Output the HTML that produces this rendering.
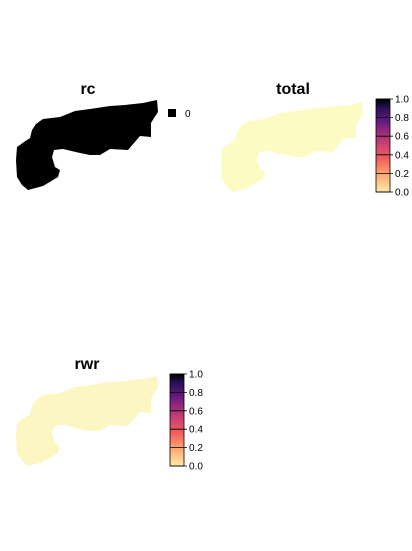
<!DOCTYPE html>
<html><head><meta charset="utf-8"><style>
body{margin:0;background:#fff;}
svg{display:block;font-family:"Liberation Sans",sans-serif;}
</style></head><body>
<svg id="c" width="412" height="551">
<defs>
<linearGradient id="mg" x1="0" y1="1" x2="0" y2="0">
<stop offset="0" stop-color="#FEEBAA"/><stop offset="0.2" stop-color="#FDA36C"/>
<stop offset="0.35" stop-color="#F3605B"/><stop offset="0.55" stop-color="#C13B75"/>
<stop offset="0.75" stop-color="#6A1A80"/><stop offset="0.9" stop-color="#2A1159"/><stop offset="1" stop-color="#000004"/>
</linearGradient>
</defs>
</svg>
<script>
const tickValues=[0,0.2,0.4,0.6,0.8,1.0];
const tickLabels=["0.0","0.2","0.4","0.6","0.8","1.0"];
const panelNames=["rc","total","rwr"];
const panelFills=["#000000","#FDFBC4","#FBF6C2"];
const rcCategories=["0"];
const shape=[[157,100],[158,112],[154,118],[151,123],[151,137],[140,136],[128,150],[110,149],[100,155],[90,155],[80,153],[63,149],[54,150],[52,157],[55,167],[60,170],[58,177],[53,180],[43,186],[28,190],[22,185],[17,177],[16,160],[17,147],[24,142],[30,138],[32,130],[36,124],[43,119],[60,117],[75,111],[90,109],[110,106],[125,105],[143,103]];
const svg=document.getElementById('c');
const NS='http://www.w3.org/2000/svg';
function mk(t,a){const e=document.createElementNS(NS,t);for(const k in a)e.setAttribute(k,a[k]);svg.appendChild(e);return e;}
const offsets=[[0,0],[205,2],[0,276]];
panelNames.forEach((n,i)=>{
  const [dx,dy]=offsets[i];
  const p=mk('polygon',{points:shape.map(q=>(q[0]+dx)+','+(q[1]+dy)).join(' '),fill:panelFills[i]});
  
  
  const t=mk('text',{x:[88,293,87][i],y:[94,94,369][i],'text-anchor':'middle','font-size':16,'font-weight':'bold'});
  t.textContent=n;
  
  
});
// rc legend
const sq=mk('rect',{x:168,y:109,width:8,height:8,fill:'#000'});


const lt=mk('text',{x:185,y:117,'font-size':10});
lt.textContent=rcCategories[0];


// colorbars
[[376,99,192,'total'],[170,374,466,'rwr']].forEach(([x,y0,y1,n])=>{
  const w=14;
  const r=mk('rect',{x:x,y:y0,width:w,height:y1-y0,fill:'url(#mg)',stroke:'#000','stroke-width':0.8});
  
  
  const ys=v=>y1-v*(y1-y0);
  tickValues.forEach((v,k)=>{
    const l=mk('line',{x1:x,x2:x+w+3,y1:ys(v),y2:ys(v),stroke:'#000','stroke-width':0.8});
    
    
    const tx=mk('text',{x:x+w+5,y:ys(v)+3.5,'font-size':10});
    tx.textContent=tickLabels[k];
    
    
  });
});
</script>
</body></html>
